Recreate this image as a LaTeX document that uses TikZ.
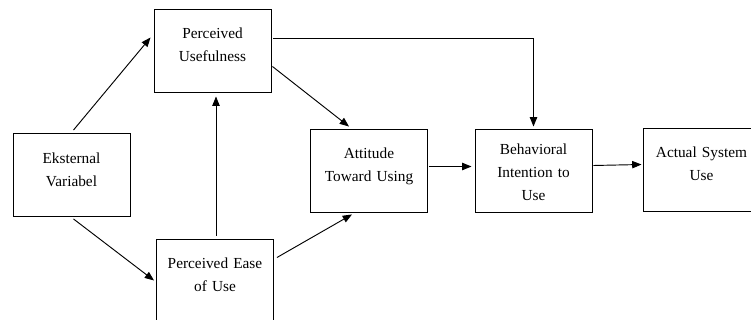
\documentclass[tikz,border=0pt]{standalone}
\usepackage{fontspec}
\setmainfont{Liberation Serif}
\usetikzlibrary{arrows.meta,calc}
\tikzset{
  tambox/.style={
    draw, inner sep=0pt, text width=87.75pt, align=center,
    text height=22.5pt, text depth=39.75pt,
    font=\fontsize{11.5}{17.25}\selectfont
  },
  tamarrow/.style={-{Triangle[length=7pt,width=5.5pt]}}
}
\begin{document}
\begin{tikzpicture}[x=0.75pt,y=-0.75pt,line width=0.7pt]
  \useasboundingbox (0,0) rectangle (751,320);
  % boxes
  \node[tambox] (ev) at (71.5,175) {Eksternal\\Variabel};
  \node[tambox] (pu) at (212.5,50.5) {Perceived\\Usefulness};
  \node[tambox] (peu) at (215,280.5) {Perceived Ease\\of Use};
  \node[tambox] (atu) at (369,170.5) {Attitude\\Toward Using};
  \node[tambox, text height=19.5pt, text depth=42.75pt] (biu) at (533.5,170.5) {Behavioral\\Intention to\\Use};
  \node[tambox] (asu) at (701.5,169.5) {Actual System\\Use};
  % arrows
  \draw[tamarrow] ($(ev.north)+(2,-3)$) -- ($(pu.west)+(-3,-13)$);
  \draw[tamarrow] ($(ev.south)+(2,2)$) -- ($(peu.west)+(-2,0)$);
  \draw[tamarrow] ($(peu.north)+(1,-3)$) -- ($(peu.north |- pu.south)+(1,4)$);
  \draw[tamarrow] ($(pu.east)+(1,16)$) -- ($(atu.north)+(-20,-2)$);
  \draw[tamarrow] ($(peu.east)+(3,-23)$) -- ($(atu.south)+(-17,2)$);
  \draw[tamarrow] ($(pu.east)+(2,-12)$) -| ($(biu.north)+(0,-2)$);
  \draw[tamarrow] ($(atu.east)+(1,-4)$) -- ($(biu.west)+(-3,-4)$);
  \draw[tamarrow] ($(biu.east)+(1,-5)$) -- ($(asu.west)+(-1,-5)$);
\end{tikzpicture}
\end{document}
